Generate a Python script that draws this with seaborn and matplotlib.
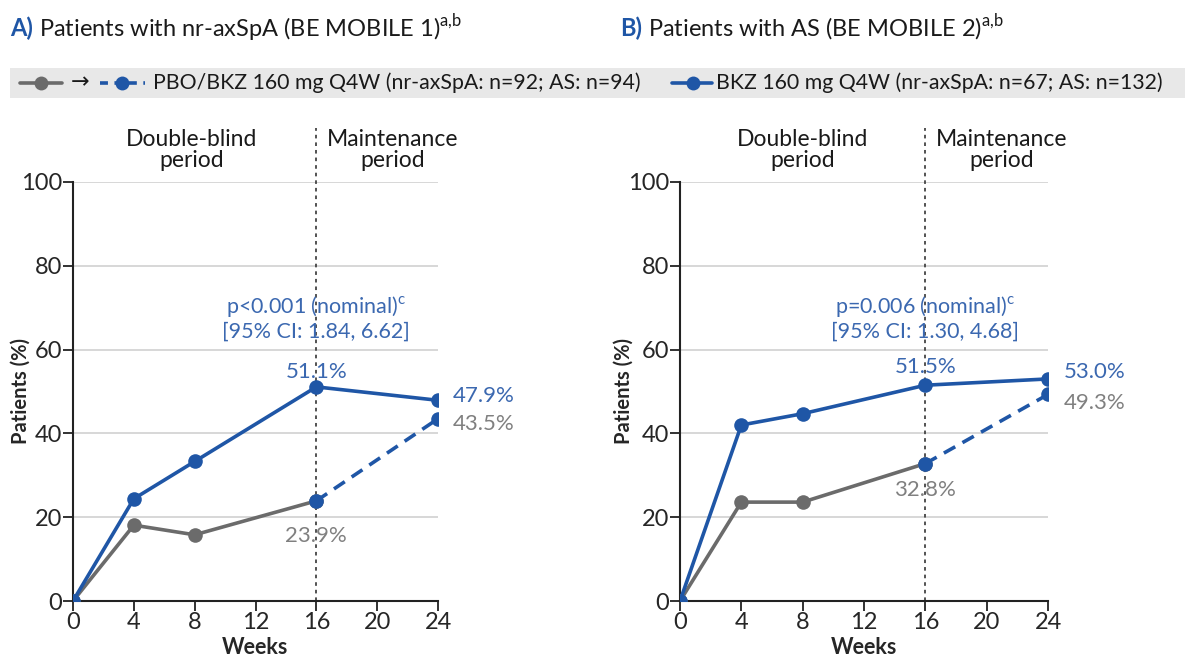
import numpy as np
import pandas as pd
import matplotlib
matplotlib.use("Agg")
import matplotlib.pyplot as plt
import seaborn as sns

# data (% of patients responding)
weeks = [0, 4, 8, 16, 24]
weeks_db = [0, 4, 8, 16]
weeks_switch = [16, 24]

nr_bkz = [0, 24.4, 33.3, 51.1, 47.9]
nr_pbo = [0, 18.1, 15.8, 23.9]
nr_pbo_switch = [23.9, 43.5]

as_bkz = [0, 42.0, 44.7, 51.5, 53.0]
as_pbo = [0, 23.6, 23.6, 32.8]
as_pbo_switch = [32.8, 49.3]

panel_letters = ["A)", "B)"]
panel_titles = [" Patients with nr-axSpA (BE MOBILE 1)", " Patients with AS (BE MOBILE 2)"]
p_texts = ["p<0.001 (nominal)$^{\\mathrm{c}}$\n[95% CI: 1.84, 6.62]",
           "p=0.006 (nominal)$^{\\mathrm{c}}$\n[95% CI: 1.30, 4.68]"]
legend_pbo = "PBO/BKZ 160 mg Q4W (nr-axSpA: n=92; AS: n=94)"
legend_bkz = "BKZ 160 mg Q4W (nr-axSpA: n=67; AS: n=132)"

BLUE = "#1f56a6"
BLUE_TXT = "#3b68b0"
GREY = "#6b6b6b"
GREY_TXT = "#808080"

sns.set_style("white")
plt.rcParams["font.family"] = ["Lato", "DejaVu Sans"]
plt.rcParams["mathtext.fontset"] = "custom"
plt.rcParams["mathtext.rm"] = "Lato"
plt.rcParams["text.color"] = "#1a1a1a"

fig = plt.figure(figsize=(11.92, 6.6), dpi=100)
ax_a = fig.add_axes([73 / 1192, 1 - 601 / 660, 365 / 1192, 419 / 660])
ax_b = fig.add_axes([680 / 1192, 1 - 601 / 660, 368 / 1192, 419 / 660])

panels = [
    (ax_a, nr_bkz, nr_pbo, nr_pbo_switch, -0.115,
     [(16, 54.6, "51.1%", BLUE_TXT, "center"), (25.0, 48.9, "47.9%", BLUE_TXT, "left"),
      (25.0, 42.2, "43.5%", GREY_TXT, "left"), (16, 15.5, "23.9%", GREY_TXT, "center")]),
    (ax_b, as_bkz, as_pbo, as_pbo_switch, -0.125,
     [(16, 55.8, "51.5%", BLUE_TXT, "center"), (25.0, 54.6, "53.0%", BLUE_TXT, "left"),
      (25.0, 47.2, "49.3%", GREY_TXT, "left"), (16, 26.5, "32.8%", GREY_TXT, "center")]),
]

for i, (ax, bkz, pbo, pbo_sw, ylab_x, labels) in enumerate(panels):
    for yv in [20, 40, 60, 80, 100]:
        ax.axhline(yv, color="#d4d4d4", lw=1.3, zorder=0)
    ax.plot([16, 16], [0, 113], color="#444444", lw=1.3, ls=(0, (2, 2.2)), clip_on=False, zorder=1)

    sns.lineplot(x=weeks_db, y=pbo, ax=ax, color=GREY, marker="o", markersize=10.5,
                 markeredgewidth=0, linewidth=2.6, zorder=3)
    sns.lineplot(x=weeks_switch, y=pbo_sw, ax=ax, color=BLUE, marker="o", markersize=10.5,
                 markeredgewidth=0, linewidth=2.6, linestyle=(0, (3.6, 2.3)), zorder=4)
    sns.lineplot(x=weeks, y=bkz, ax=ax, color=BLUE, marker="o", markersize=10.5,
                 markeredgewidth=0, linewidth=2.6, zorder=5)

    ax.set_xlim(0, 24)
    ax.set_ylim(0, 100)
    ax.set_xticks([0, 4, 8, 12, 16, 20, 24])
    ax.set_yticks([0, 20, 40, 60, 80, 100])
    ax.tick_params(axis="both", labelsize=17, length=7, width=1.3, color="#222222",
                   pad=1, direction="out", bottom=True, left=True)
    for s in ["top", "right"]:
        ax.spines[s].set_visible(False)
    for s in ["left", "bottom"]:
        ax.spines[s].set_color("#222222")
        ax.spines[s].set_linewidth(1.5)
    ax.set_xlabel("Weeks", fontsize=15.5, fontweight="bold", labelpad=3)
    ax.set_ylabel("Patients (%)", fontsize=14.5, fontweight="bold")
    ax.yaxis.set_label_coords(ylab_x, 0.5)

    ax.text(7.8 if i == 0 else 8.0, 107.7, "Double-blind\nperiod", ha="center", va="center",
            fontsize=16.5, linespacing=1.0)
    ax.text(21.0, 107.7, "Maintenance\nperiod", ha="center", va="center",
            fontsize=16.5, linespacing=1.0)
    ax.text(16, 67.5, p_texts[i], ha="center", va="center", fontsize=15.5, color=BLUE_TXT,
            linespacing=1.15)
    for x, y, t, c, ha in labels:
        ax.text(x, y, t, ha=ha, va="center", fontsize=16, color=c, clip_on=False)

# panel titles
for xpos, letter, title in [(10, panel_letters[0], panel_titles[0]), (620, panel_letters[1], panel_titles[1])]:
    t = fig.text(xpos / 1192, 1 - 28 / 660, letter, color=BLUE, fontsize=17, fontweight="bold",
                 va="center")
    fig.canvas.draw()
    plt.annotate(title + "$^{\\mathrm{a{,}b}}$", xy=(1, 0.5), xycoords=t, va="center",
                 ha="left", fontsize=17, annotation_clip=False)

# legend band
leg = fig.add_axes([10 / 1192, 1 - 98 / 660, 1175 / 1192, 30 / 660])
leg.set_facecolor("#e8e8e8")
for s in leg.spines.values():
    s.set_visible(False)
leg.set_xticks([])
leg.set_yticks([])
leg.set_xlim(10, 1185)
leg.set_ylim(0, 1)
leg.plot([20, 62], [0.5, 0.5], color=GREY, lw=2.6)
leg.plot([41], [0.5], "o", color=GREY, ms=10, mew=0)
leg.text(80, 0.52, "\u2192", ha="center", va="center", fontsize=16, family="DejaVu Sans")
leg.plot([100, 145], [0.5, 0.5], color=BLUE, lw=2.6, ls=(0, (2.2, 1.8)))
leg.plot([122], [0.5], "o", color=BLUE, ms=10, mew=0)
leg.text(153, 0.5, legend_pbo, ha="left", va="center", fontsize=15.3)
leg.plot([672, 712], [0.5, 0.5], color=BLUE, lw=2.6)
leg.plot([693], [0.5], "o", color=BLUE, ms=10, mew=0)
leg.text(716, 0.5, legend_bkz, ha="left", va="center", fontsize=15.3)

fig.savefig("out.png", dpi=100)
